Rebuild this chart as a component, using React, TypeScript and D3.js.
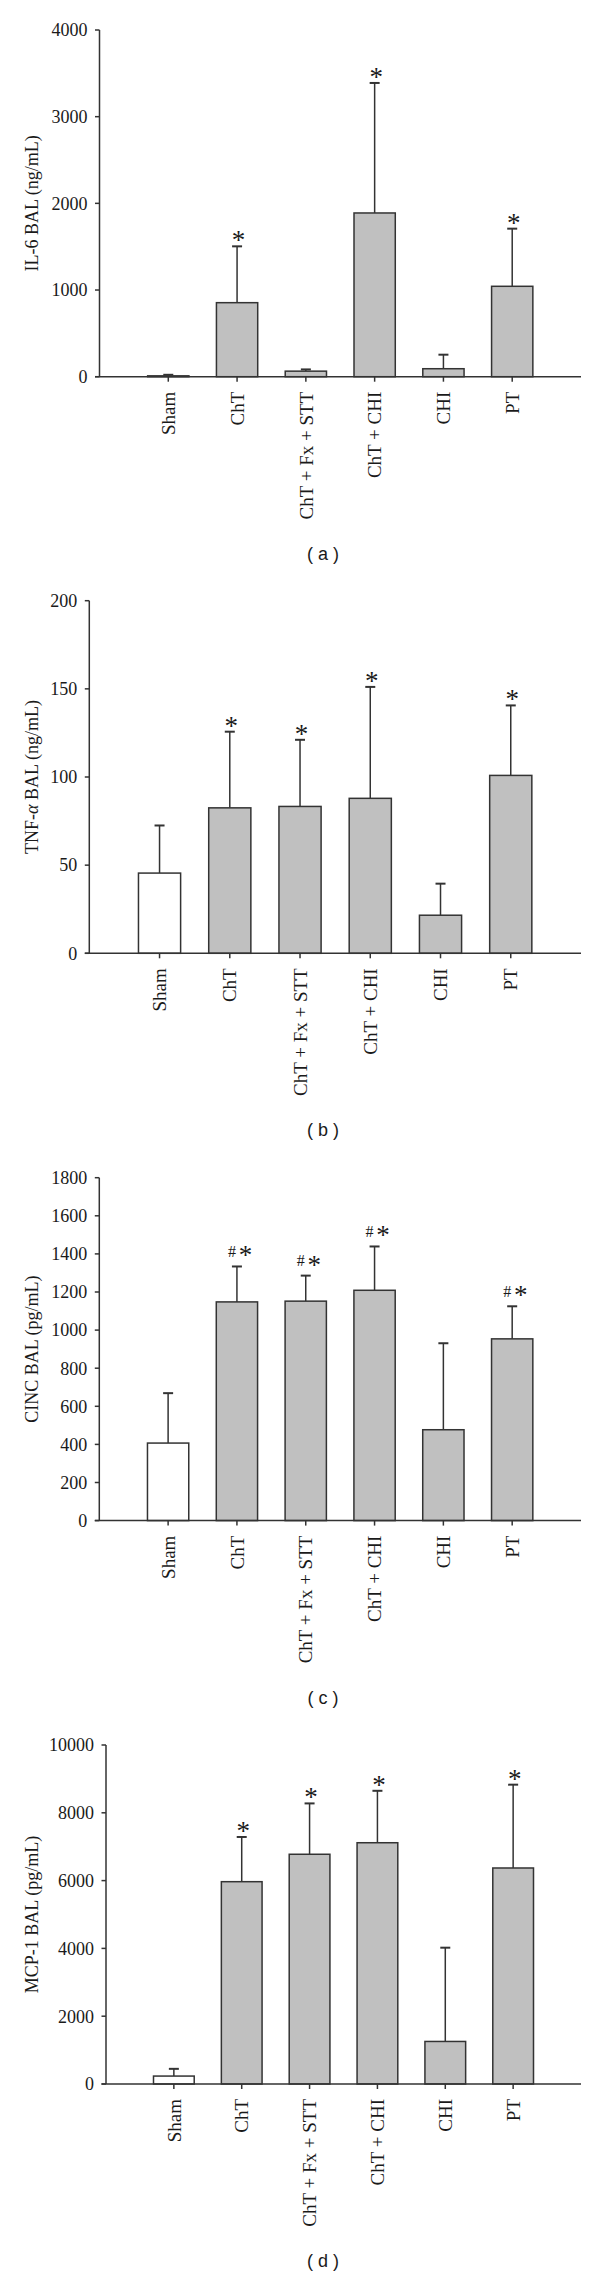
import React from "react";
import * as d3 from "d3";

const categories = ["Sham", "ChT", "ChT + Fx + STT", "ChT + CHI", "CHI", "PT"];

const il6Mean = [10, 854, 64, 1889, 92, 1043];
const il6Sd = [12, 650, 20, 1500, 162, 665];
const il6Marks = ["", "*", "", "*", "", "*"];

const tnfMean = [45.5, 82.5, 83.3, 87.9, 21.6, 100.9];
const tnfSd = [27, 43.2, 37.8, 63.2, 17.9, 39.7];
const tnfMarks = ["", "*", "*", "*", "", "*"];

const cincMean = [407, 1148, 1152, 1209, 477, 954];
const cincSd = [262, 186, 134, 230, 454, 171];
const cincMarks = ["", "#*", "#*", "#*", "", "#*"];

const mcpMean = [234, 5968, 6777, 7117, 1255, 6372];
const mcpSd = [213, 1319, 1500, 1532, 2766, 2458];
const mcpMarks = ["", "*", "*", "*", "", "*"];

const il6Ticks = [0, 1000, 2000, 3000, 4000];
const tnfTicks = [0, 50, 100, 150, 200];
const cincTicks = [0, 200, 400, 600, 800, 1000, 1200, 1400, 1600, 1800];
const mcpTicks = [0, 2000, 4000, 6000, 8000, 10000];

const SERIF = "'Liberation Serif', 'Times New Roman', serif";
const SANS = "'Liberation Sans', Arial, sans-serif";
const INK = "#333";

type PanelProps = {
  mean: number[];
  sd: number[];
  marks: string[];
  ticks: number[];
  title: React.ReactNode;
  letter: string;
  axisX: number;
  top: number;
  zero: number;
};

const RIGHT = 581;

function Panel({ mean, sd, marks, ticks, title, letter, axisX, top, zero }: PanelProps) {
  const maxV = ticks[ticks.length - 1];
  const y = d3.scaleLinear().domain([0, maxV]).range([zero, top]);
  const x = d3.scalePoint<string>().domain(categories).range([axisX, RIGHT]).padding(1);
  const step = x.step();
  const bw = step * 0.6;
  const capW = 10;
  return (
    <g>
      <line x1={axisX} x2={axisX} y1={top} y2={zero} stroke={INK} strokeWidth={1.5} />
      {ticks.map((t) => (
        <g key={t}>
          <line x1={axisX - 4.5} x2={axisX} y1={y(t)} y2={y(t)} stroke={INK} strokeWidth={1.5} />
          <text
            x={axisX - 12}
            y={y(t)}
            dy="0.35em"
            textAnchor="end"
            fontFamily={SERIF}
            fontSize={18}
            fill="#1a1a1a"
          >
            {t}
          </text>
        </g>
      ))}
      <text
        transform={`translate(38,${(top + zero) / 2}) rotate(-90)`}
        textAnchor="middle"
        fontFamily={SERIF}
        fontSize={18}
        fill="#1a1a1a"
      >
        {title}
      </text>
      {categories.map((c, i) => {
        const cx = x(c)!;
        const yTop = y(mean[i]);
        const yErr = y(mean[i] + sd[i]);
        return (
          <g key={c}>
            <line x1={cx} x2={cx} y1={yTop} y2={yErr} stroke={INK} strokeWidth={1.5} />
            <line x1={cx - capW / 2} x2={cx + capW / 2} y1={yErr} y2={yErr} stroke={INK} strokeWidth={2} />
            <rect
              x={cx - bw / 2}
              y={yTop}
              width={bw}
              height={zero - yTop}
              fill={i === 0 ? "#ffffff" : "#c0c0c0"}
              stroke={INK}
              strokeWidth={1.5}
            />
            {marks[i] === "*" && (
              <text x={cx + 1.5} y={yErr + 3} textAnchor="middle" fontFamily={SERIF} fontSize={27} fill="#1a1a1a">
                *
              </text>
            )}
            {marks[i] === "#*" && (
              <g>
                <text x={cx - 5} y={yErr - 9.5} textAnchor="middle" fontFamily={SERIF} fontSize={16} fill="#1a1a1a">
                  #
                </text>
                <text x={cx + 8.5} y={yErr - 2} textAnchor="middle" fontFamily={SERIF} fontSize={27} fill="#1a1a1a">
                  *
                </text>
              </g>
            )}
          </g>
        );
      })}
      <line x1={axisX - 4.5} x2={RIGHT} y1={zero} y2={zero} stroke={INK} strokeWidth={1.5} />
      {categories.map((c) => {
        const cx = x(c)!;
        return (
          <g key={"t" + c}>
            <line x1={cx} x2={cx} y1={zero} y2={zero + 5} stroke={INK} strokeWidth={1.5} />
            <text
              transform={`translate(${cx},${zero + 15}) rotate(-90)`}
              textAnchor="end"
              dy="0.35em"
              fontFamily={SERIF}
              fontSize={19}
              fill="#1a1a1a"
            >
              {c}
            </text>
          </g>
        );
      })}
      <text x={323} y={zero + 183} textAnchor="middle" fontFamily={SANS} fontSize={18} fill="#1a1a1a">
        {`( ${letter} )`}
      </text>
    </g>
  );
}

export default function App() {
  return (
    <svg
      width={600}
      height={2277}
      style={{ position: "absolute", left: 0, top: 0, background: "#fff" }}
    >
      <rect x={0} y={0} width={600} height={2277} fill="#fff" />
      <Panel
        mean={il6Mean}
        sd={il6Sd}
        marks={il6Marks}
        ticks={il6Ticks}
        title="IL-6 BAL (ng/mL)"
        letter="a"
        axisX={99.5}
        top={30}
        zero={376.7}
      />
      <Panel
        mean={tnfMean}
        sd={tnfSd}
        marks={tnfMarks}
        ticks={tnfTicks}
        title={
          <>
            TNF-<tspan fontStyle="italic">α</tspan> BAL (ng/mL)
          </>
        }
        letter="b"
        axisX={89.3}
        top={600.7}
        zero={953.3}
      />
      <Panel
        mean={cincMean}
        sd={cincSd}
        marks={cincMarks}
        ticks={cincTicks}
        title="CINC BAL (pg/mL)"
        letter="c"
        axisX={99.3}
        top={1177.7}
        zero={1520.6}
      />
      <Panel
        mean={mcpMean}
        sd={mcpSd}
        marks={mcpMarks}
        ticks={mcpTicks}
        title="MCP-1 BAL (pg/mL)"
        letter="d"
        axisX={106}
        top={1745}
        zero={2084}
      />
    </svg>
  );
}
